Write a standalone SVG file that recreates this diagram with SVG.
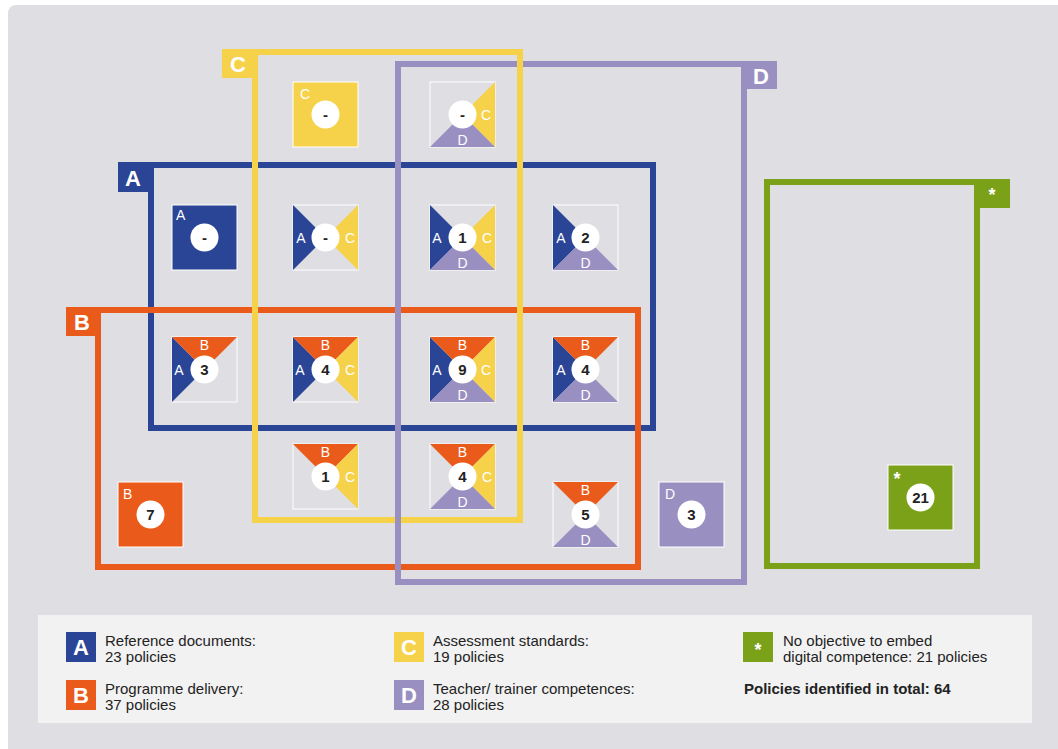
<svg xmlns="http://www.w3.org/2000/svg" width="1058" height="749" viewBox="0 0 1058 749">
<defs>
<style>
.fr{fill:none;stroke-width:6}
.bl{fill:#2b4596}.or{fill:#ea5b1b}.ye{fill:#f5d24a}.pu{fill:#9a8fc1}.gr{fill:#7aa118}
.sbl{stroke:#2b4596}.sor{stroke:#ea5b1b}.sye{stroke:#f5d24a}.spu{stroke:#9a8fc1}.sgr{stroke:#7aa118}
.box{fill:#dedee3;stroke:#ffffff;stroke-width:1}
.sbox{stroke:#ffffff;stroke-width:1}
.lt{font-family:"Liberation Sans",Arial,sans-serif;font-size:14px;fill:#ffffff;text-anchor:middle}
.lts{font-family:"Liberation Sans",Arial,sans-serif;font-size:14px;fill:#ffffff}
.num{font-family:"Liberation Sans",Arial,sans-serif;font-size:15px;font-weight:bold;fill:#222222;text-anchor:middle}
.big{font-family:"Liberation Sans",Arial,sans-serif;font-size:22px;font-weight:bold;fill:#ffffff;text-anchor:middle}
.star{font-family:"Liberation Sans",Arial,sans-serif;font-size:18px;font-weight:bold;fill:#ffffff;text-anchor:middle}
.leg{font-family:"Liberation Sans",Arial,sans-serif;font-size:15px;fill:#222222}
</style>
<path id="tA" d="M0,0 L32.5,32.5 L0,65 Z"/>
<path id="tB" d="M0,0 L65,0 L32.5,32.5 Z"/>
<path id="tC" d="M65,0 L65,65 L32.5,32.5 Z"/>
<path id="tD" d="M0,65 L65,65 L32.5,32.5 Z"/>
<circle id="dot" cx="32.5" cy="32.5" r="14" fill="#ffffff"/>
</defs>
<rect x="0" y="0" width="1058" height="749" fill="#ffffff"/>
<rect x="8" y="5" width="1060" height="760" rx="8" fill="#dedee3"/>

<g id="frames">
<g id="frame-A"><rect class="fr sbl" x="151" y="165" width="502" height="263"/><rect class="bl" x="118" y="162" width="36" height="30"/><text class="big" x="133" y="186">A</text></g>
<g id="frame-B"><rect class="fr sor" x="98" y="310" width="540" height="257"/><rect class="or" x="66" y="307" width="35" height="29"/><text class="big" x="82" y="330">B</text></g>
<g id="frame-C"><rect class="fr sye" x="255" y="52" width="265" height="468"/><rect class="ye" x="222" y="49" width="36" height="29"/><text class="big" x="238" y="72">C</text></g>
<g id="frame-D"><rect class="fr spu" x="398" y="64" width="346" height="518"/><rect class="pu" x="741" y="61" width="36" height="28"/><text class="big" x="761" y="84">D</text></g>
<line x1="520" y1="58" x2="520" y2="70" stroke="#f5d24a" stroke-width="6"/>
<g id="frame-star"><rect class="fr sgr" x="767" y="182" width="210" height="384"/><rect class="gr" x="974" y="179" width="36" height="29"/><text class="star" x="992" y="201">*</text></g>
</g>

<g id="n-C" transform="translate(293,82)"><rect class="ye sbox" width="65" height="65"/><text class="lts" x="7" y="17">C</text><use href="#dot"/><text class="num" x="32.5" y="37.5">-</text></g>
<g id="n-CD" transform="translate(430,82)"><rect class="box" width="65" height="65"/><use href="#tC" class="ye"/><use href="#tD" class="pu"/><use href="#dot"/><text class="lt" x="56" y="38">C</text><text class="lt" x="32.5" y="63">D</text><text class="num" x="32.5" y="37.5">-</text></g>

<g id="n-A" transform="translate(172,205)"><rect class="bl sbox" width="65" height="65"/><text class="lts" x="4" y="15">A</text><use href="#dot"/><text class="num" x="32.5" y="37.5">-</text></g>
<g id="n-AC" transform="translate(293,205)"><rect class="box" width="65" height="65"/><use href="#tA" class="bl"/><use href="#tC" class="ye"/><use href="#dot"/><text class="lt" x="8" y="38">A</text><text class="lt" x="57" y="38">C</text><text class="num" x="32.5" y="37.5">-</text></g>
<g id="n-ACD" transform="translate(430,205)"><rect class="box" width="65" height="65"/><use href="#tA" class="bl"/><use href="#tC" class="ye"/><use href="#tD" class="pu"/><use href="#dot"/><text class="lt" x="7" y="38">A</text><text class="lt" x="57" y="38">C</text><text class="lt" x="32.5" y="63">D</text><text class="num" x="32.5" y="38">1</text></g>
<g id="n-AD" transform="translate(553,205)"><rect class="box" width="65" height="65"/><use href="#tA" class="bl"/><use href="#tD" class="pu"/><use href="#dot"/><text class="lt" x="8" y="38">A</text><text class="lt" x="32.5" y="63">D</text><text class="num" x="32.5" y="38">2</text></g>

<g id="n-AB" transform="translate(172,337)"><rect class="box" width="65" height="65"/><use href="#tA" class="bl"/><use href="#tB" class="or"/><use href="#dot"/><text class="lt" x="7" y="38">A</text><text class="lt" x="32.5" y="13">B</text><text class="num" x="32.5" y="38">3</text></g>
<g id="n-ABC" transform="translate(293,337)"><rect class="box" width="65" height="65"/><use href="#tA" class="bl"/><use href="#tB" class="or"/><use href="#tC" class="ye"/><use href="#dot"/><text class="lt" x="7" y="38">A</text><text class="lt" x="32.5" y="13">B</text><text class="lt" x="57" y="38">C</text><text class="num" x="32.5" y="38">4</text></g>
<g id="n-ABCD" transform="translate(430,337)"><rect class="box" width="65" height="65"/><use href="#tA" class="bl"/><use href="#tB" class="or"/><use href="#tC" class="ye"/><use href="#tD" class="pu"/><use href="#dot"/><text class="lt" x="7" y="38">A</text><text class="lt" x="32.5" y="13">B</text><text class="lt" x="56" y="38">C</text><text class="lt" x="32.5" y="63">D</text><text class="num" x="32.5" y="38">9</text></g>
<g id="n-ABD" transform="translate(553,337)"><rect class="box" width="65" height="65"/><use href="#tA" class="bl"/><use href="#tB" class="or"/><use href="#tD" class="pu"/><use href="#dot"/><text class="lt" x="8" y="38">A</text><text class="lt" x="32.5" y="13">B</text><text class="lt" x="32.5" y="63">D</text><text class="num" x="32.5" y="38">4</text></g>

<g id="n-BC" transform="translate(293,444)"><rect class="box" width="65" height="65"/><use href="#tB" class="or"/><use href="#tC" class="ye"/><use href="#dot"/><text class="lt" x="32.5" y="13">B</text><text class="lt" x="57" y="38">C</text><text class="num" x="32.5" y="38">1</text></g>
<g id="n-BCD" transform="translate(430,444)"><rect class="box" width="65" height="65"/><use href="#tB" class="or"/><use href="#tC" class="ye"/><use href="#tD" class="pu"/><use href="#dot"/><text class="lt" x="32.5" y="13">B</text><text class="lt" x="57" y="38">C</text><text class="lt" x="32.5" y="63">D</text><text class="num" x="32.5" y="38">4</text></g>
<g id="n-B" transform="translate(118,482)"><rect class="or sbox" width="65" height="65"/><text class="lts" x="5" y="17">B</text><use href="#dot"/><text class="num" x="32.5" y="38">7</text></g>
<g id="n-BD" transform="translate(553,482)"><rect class="box" width="65" height="65"/><use href="#tB" class="or"/><use href="#tD" class="pu"/><use href="#dot"/><text class="lt" x="32.5" y="13">B</text><text class="lt" x="32.5" y="63">D</text><text class="num" x="32.5" y="38">5</text></g>
<g id="n-D" transform="translate(659,482)"><rect class="pu sbox" width="65" height="65"/><text class="lts" x="6" y="17">D</text><use href="#dot"/><text class="num" x="32.5" y="38">3</text></g>
<g id="n-star" transform="translate(888,465)"><rect class="gr sbox" width="65" height="65"/><text class="star" x="9" y="20">*</text><use href="#dot"/><text class="num" x="32.5" y="38">21</text></g>

<g id="legend">
<rect x="38" y="615" width="994" height="108" fill="#f2f2f2"/>
<rect class="bl" x="66" y="632" width="30" height="30"/><text class="big" x="81" y="655">A</text>
<text class="leg" x="105" y="646">Reference documents:</text><text class="leg" x="105" y="662">23 policies</text>
<rect class="or" x="66" y="680" width="30" height="30"/><text class="big" x="81" y="703">B</text>
<text class="leg" x="105" y="694">Programme delivery:</text><text class="leg" x="105" y="710">37 policies</text>
<rect class="ye" x="394" y="632" width="30" height="30"/><text class="big" x="409" y="655">C</text>
<text class="leg" x="433" y="646">Assessment standards:</text><text class="leg" x="433" y="662">19 policies</text>
<rect class="pu" x="394" y="680" width="30" height="30"/><text class="big" x="409" y="703">D</text>
<text class="leg" x="433" y="694">Teacher/ trainer competences:</text><text class="leg" x="433" y="710">28 policies</text>
<rect class="gr" x="743" y="632" width="30" height="30"/><text class="star" x="758" y="656">*</text>
<text class="leg" x="783" y="646">No objective to embed</text><text class="leg" x="783" y="662">digital competence: 21 policies</text>
<text class="leg" x="744" y="694" font-weight="bold">Policies identified in total: 64</text>
</g>
</svg>
